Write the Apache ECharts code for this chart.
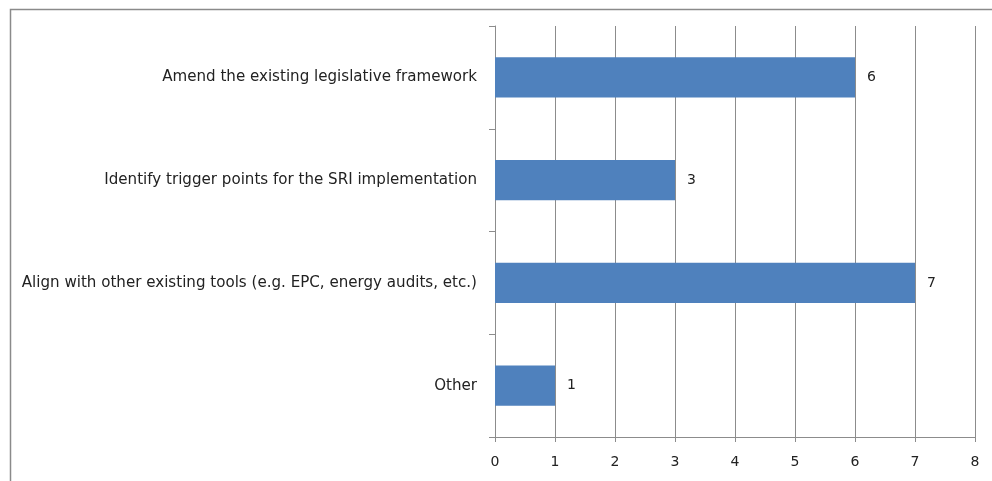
<!DOCTYPE html>
<html><head><meta charset="utf-8">
<script src="https://cdn.jsdelivr.net/npm/echarts@6/dist/echarts.min.js"></script>
<style>html,body{margin:0;padding:0;background:#fff}#c{width:992px;height:481px}</style>
</head><body><div id="c"></div>
<script>
const categories = ["Amend the existing legislative framework","Identify trigger points for the SRI implementation","Align with other existing tools (e.g. EPC, energy audits, etc.)","Other"];
const values = [6,3,7,1];
const xTicks = [0,1,2,3,4,5,6,7,8];

const chart = echarts.init(document.getElementById('c'));
chart.setOption({
  animation:false,
  backgroundColor:'#fff',
  graphic:[{type:'rect',left:8,top:7,shape:{width:1010,height:500},style:{fill:'none',stroke:'#8a8a8a',lineWidth:1.5},silent:true}],
  grid:{left:495,right:17,top:26,bottom:44,containLabel:false},
  xAxis:{type:'value',min:0,max:8,interval:1,
    axisLine:{show:true,lineStyle:{color:'#8c8c8c'}},
    axisTick:{show:true,length:5,lineStyle:{color:'#8c8c8c'}},
    axisLabel:{color:'#222',fontFamily:'DejaVu Sans',fontSize:14,margin:18,formatter:v=>String(v)},
    splitLine:{show:true,lineStyle:{color:'#8c8c8c',width:1}}},
  yAxis:{type:'category',inverse:true,data:categories,
    axisLine:{show:true,lineStyle:{color:'#8c8c8c'}},
    axisTick:{show:true,length:6,lineStyle:{color:'#8c8c8c'}},
    axisLabel:{color:'#222',fontFamily:'DejaVu Sans',fontSize:15.1,margin:18}},
  series:[{type:'bar',data:values,barCategoryGap:'61%',
    itemStyle:{color:'#4f81bd'},
    label:{show:true,position:'right',distance:12,color:'#222',fontFamily:'DejaVu Sans',fontSize:14}}]
});
</script></body></html>
